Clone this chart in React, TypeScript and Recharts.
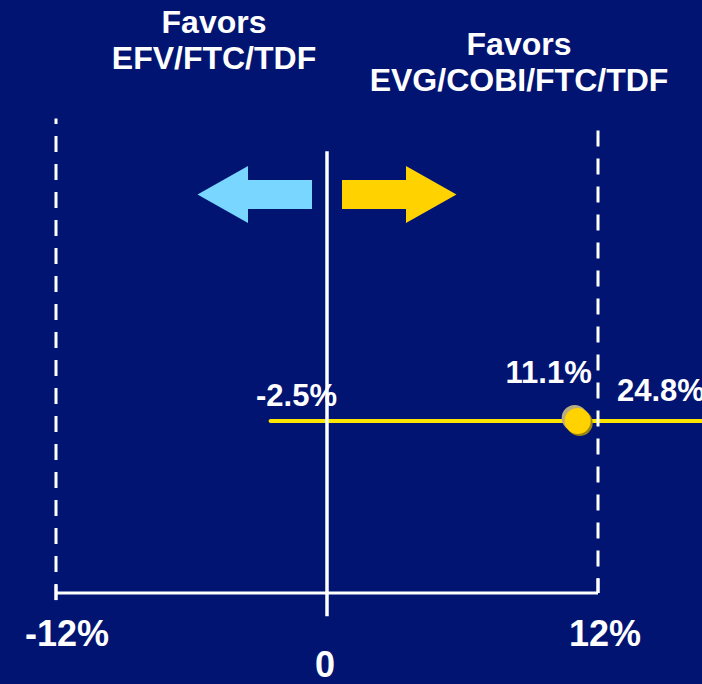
import React from 'react';
import { ComposedChart, XAxis, YAxis, Scatter, ReferenceLine, ReferenceDot } from 'recharts';

// treatment difference (%) with 95% CI
const CI_LOWER = -2.5;
const POINT_ESTIMATE = 11.1;
const CI_UPPER = 24.8;
const NI_MARGIN = 12;

const X_TICKS = [-NI_MARGIN, 0, NI_MARGIN];
const X_TICK_LABELS = ['-12%', '0', '12%'];

const LEFT_HEADER = ['Favors', 'EFV/FTC/TDF'];
const RIGHT_HEADER = ['Favors', 'EVG/COBI/FTC/TDF'];

// layout
const WIDTH = 702;
const HEIGHT = 684;
const BG = '#011472';
const WHITE = '#ffffff';
const FONT = '"Liberation Sans", Arial, Helvetica, sans-serif';
const ROW_Y = 2.9;
const ARROW_Y = 6.72;

const estimateData = [{ x: POINT_ESTIMATE, y: ROW_Y }];

const boundLabels = [
  { x: CI_LOWER, y: ROW_Y, value: CI_LOWER, kind: 'lower' },
  { x: POINT_ESTIMATE, y: ROW_Y, value: POINT_ESTIMATE, kind: 'estimate' },
  { x: NI_MARGIN, y: ROW_Y, value: CI_UPPER, kind: 'upper' },
];

const labelOffsets: Record<string, { dx: number; dy: number; anchor: string }> = {
  lower: { dx: 26, dy: -15, anchor: 'middle' },
  estimate: { dx: -29, dy: -38, anchor: 'middle' },
  upper: { dx: 19, dy: -20, anchor: 'start' },
};

const tickOffsets: Record<number, { dx: number; dy: number }> = {
  [-NI_MARGIN]: { dx: 11, dy: 53 },
  0: { dx: -2, dy: 84 },
  [NI_MARGIN]: { dx: 7, dy: 53 },
};

const AxisTick = ({ x, y, payload }: any) => {
  const idx = X_TICKS.indexOf(payload.value);
  const off = tickOffsets[payload.value] || { dx: 0, dy: 53 };
  return (
    <text
      x={x + off.dx}
      y={y + off.dy}
      textAnchor="middle"
      fill={WHITE}
      fontSize={36}
      fontWeight="bold"
      fontFamily={FONT}
    >
      {X_TICK_LABELS[idx]}
    </text>
  );
};

const EstimateDot = ({ cx, cy }: any) => (
  <g>
    <circle cx={cx - 3} cy={cy - 3} r={13} fill="#b9ad80" />
    <circle cx={cx + 2} cy={cy + 2} r={13} fill="#9c8412" />
    <circle cx={cx} cy={cy} r={13} fill="#ffd200" />
  </g>
);

const BoundLabel = ({ cx, cy, payload }: any) => {
  const off = labelOffsets[payload.kind];
  return (
    <text
      x={cx + off.dx}
      y={cy + off.dy}
      textAnchor={off.anchor}
      fill={WHITE}
      fontSize={31}
      fontWeight="bold"
      fontFamily={FONT}
    >
      {`${payload.value}%`}
    </text>
  );
};

// pair of direction arrows either side of the zero line
const DirectionArrows = ({ cx, cy }: any) => {
  const head = 28.5;
  const shaft = 14.5;
  const left = [
    [cx - 129.5, cy],
    [cx - 79, cy - head],
    [cx - 79, cy - shaft],
    [cx - 15, cy - shaft],
    [cx - 15, cy + shaft],
    [cx - 79, cy + shaft],
    [cx - 79, cy + head],
  ];
  const right = [
    [cx + 15, cy - shaft],
    [cx + 79, cy - shaft],
    [cx + 79, cy - head],
    [cx + 129.5, cy],
    [cx + 79, cy + head],
    [cx + 79, cy + shaft],
    [cx + 15, cy + shaft],
  ];
  return (
    <g>
      <polygon points={left.map((p) => p.join(',')).join(' ')} fill="#78d6ff" />
      <polygon points={right.map((p) => p.join(',')).join(' ')} fill="#ffd200" />
    </g>
  );
};

const Header = ({ lines, cx, top }: { lines: string[]; cx: number; top: number }) => (
  <div
    style={{
      position: 'absolute',
      left: cx - 200,
      top,
      width: 400,
      textAlign: 'center',
      color: WHITE,
      fontFamily: FONT,
      fontWeight: 'bold',
      fontSize: 32,
      lineHeight: '36px',
      whiteSpace: 'nowrap',
    }}
  >
    {lines.map((l) => (
      <div key={l}>{l}</div>
    ))}
  </div>
);

export default function App() {
  return (
    <div
      style={{
        position: 'absolute',
        left: 0,
        top: 0,
        width: WIDTH,
        height: HEIGHT,
        background: BG,
        overflow: 'hidden',
      }}
    >
      <Header lines={LEFT_HEADER} cx={214} top={4} />
      <Header lines={RIGHT_HEADER} cx={519} top={26} />
      <ComposedChart
        width={WIDTH}
        height={HEIGHT}
        margin={{ top: 0, right: 104, bottom: 0, left: 56 }}
        style={{ position: 'absolute', left: 0, top: 0 }}
      >
        <XAxis
          type="number"
          dataKey="x"
          domain={[-NI_MARGIN, NI_MARGIN]}
          ticks={X_TICKS}
          axisLine={false}
          tickLine={false}
          tickSize={0}
          tickMargin={0}
          height={91}
          tick={<AxisTick />}
          interval={0}
        />
        <YAxis type="number" dataKey="y" domain={[0, 10]} hide />

        {/* confidence interval */}
        <ReferenceLine
          segment={[
            { x: CI_LOWER, y: ROW_Y },
            { x: CI_UPPER, y: ROW_Y },
          ]}
          stroke="#ffe600"
          strokeWidth={4}
          strokeLinecap="round"
          ifOverflow="visible"
        />

        {/* non-inferiority bounds */}
        <ReferenceLine
          segment={[
            { x: -NI_MARGIN, y: -0.12 },
            { x: -NI_MARGIN, y: 8.0 },
          ]}
          stroke={WHITE}
          strokeWidth={3}
          strokeDasharray="16 12"
          ifOverflow="visible"
        />
        <ReferenceLine
          segment={[
            { x: NI_MARGIN, y: 7.8 },
            { x: NI_MARGIN, y: 0 },
          ]}
          stroke={WHITE}
          strokeWidth={3}
          strokeDasharray="16 12"
          ifOverflow="visible"
        />

        {/* baseline with end ticks */}
        <ReferenceLine
          segment={[
            { x: -NI_MARGIN, y: 0 },
            { x: NI_MARGIN, y: 0 },
          ]}
          stroke={WHITE}
          strokeWidth={3}
          ifOverflow="visible"
        />
        <ReferenceLine
          segment={[
            { x: -NI_MARGIN, y: -0.12 },
            { x: -NI_MARGIN, y: 0.14 },
          ]}
          stroke={WHITE}
          strokeWidth={3}
          ifOverflow="visible"
        />
        <ReferenceLine
          segment={[
            { x: NI_MARGIN, y: 0 },
            { x: NI_MARGIN, y: 0.25 },
          ]}
          stroke={WHITE}
          strokeWidth={3}
          ifOverflow="visible"
        />

        {/* zero line */}
        <ReferenceLine
          segment={[
            { x: 0, y: -0.39 },
            { x: 0, y: 7.45 },
          ]}
          stroke={WHITE}
          strokeWidth={3.5}
          ifOverflow="visible"
        />

        <ReferenceDot x={0} y={ARROW_Y} r={0} shape={(p: any) => <DirectionArrows {...p} />} ifOverflow="visible" />

        <Scatter data={estimateData} dataKey="y" shape={(p: any) => <EstimateDot {...p} />} isAnimationActive={false} />
        <Scatter data={boundLabels} dataKey="y" shape={(p: any) => <BoundLabel {...p} />} isAnimationActive={false} />
      </ComposedChart>
    </div>
  );
}
